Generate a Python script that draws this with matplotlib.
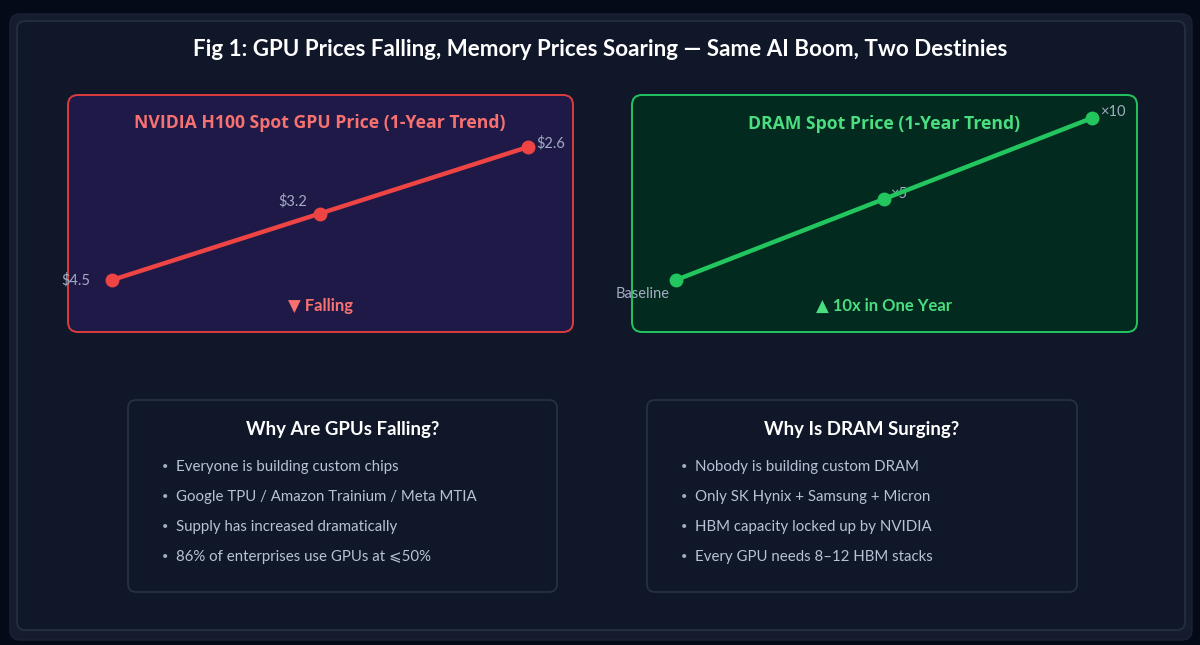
import matplotlib.pyplot as plt
from matplotlib.patches import FancyBboxPatch

# 数据
title = 'Fig 1: GPU Prices Falling, Memory Prices Soaring — Same AI Boom, Two Destinies'
steps = [0, 1, 2]
gpu_level = [0, 1, 2]
gpu_labels = ['$4.5', '$3.2', '$2.6']
dram_level = [0, 1, 2]
dram_labels = ['Baseline', '×5', '×10']
gpu_reasons = ['Everyone is building custom chips',
               'Google TPU / Amazon Trainium / Meta MTIA',
               'Supply has increased dramatically',
               '86% of enterprises use GPUs at ⩽50%']
dram_reasons = ['Nobody is building custom DRAM',
                'Only SK Hynix + Samsung + Micron',
                'HBM capacity locked up by NVIDIA',
                'Every GPU needs 8–12 HBM stacks']

W, H = 1200, 645
fam = ['Lato', 'DejaVu Sans']
plt.rcParams['font.family'] = fam

fig = plt.figure(figsize=(12, 6.45), dpi=100, facecolor='#050a18')
bg = fig.add_axes([0, 0, 1, 1])
bg.set_xlim(0, W)
bg.set_ylim(H, 0)
bg.axis('off')

def box(x0, y0, x1, y1, fc, ec, lw=1.0, r=8, z=1):
    p = FancyBboxPatch((x0, y0), x1 - x0, y1 - y0,
                       boxstyle='round,pad=0,rounding_size=%d' % r,
                       fc=fc, ec=ec, lw=lw, zorder=z)
    bg.add_patch(p)

# 外框
box(10, 14, 1192, 640, '#141c2d', '#1a2234', 1, 10, 1)
box(17, 21, 1185, 630, '#0f1729', '#222c3f', 1.5, 8, 2)
bg.text(600, 49, title, ha='center', va='center', color='white',
        fontsize=16.1, fontweight='bold', zorder=5)

# 两个折线面板
box(68, 95, 573, 332, '#1e1946', '#dc3c3c', 1.4, 10, 3)
box(632, 95, 1137, 332, '#022a1e', '#22c55e', 1.4, 10, 3)

def px_axes(x0, y0, x1, y1):
    ax = fig.add_axes([x0 / W, 1 - y1 / H, (x1 - x0) / W, (y1 - y0) / H])
    ax.axis('off')
    ax.patch.set_alpha(0)
    return ax

ax1 = px_axes(68, 95, 573, 332)
ax1.set_xlim(-0.2115, 2.216)
ax1.set_ylim(-0.782, 2.782)
ax1.plot(steps, gpu_level, color='#ef4444', lw=3.2, marker='o', ms=9,
         solid_capstyle='round', zorder=4)
ax1.text(-0.105, gpu_level[0], gpu_labels[0], ha='right', va='center',
         color='#a3adc2', fontsize=10.5)
ax1.text(steps[1] - 0.13, gpu_level[1] + 0.18, gpu_labels[1], ha='center',
         va='center', color='#a3adc2', fontsize=10.5)
ax1.text(steps[2] + 0.04, gpu_level[2] + 0.06, gpu_labels[2], ha='left',
         va='center', color='#a3adc2', fontsize=10.5)
ax1.text(1, 2.36, 'NVIDIA H100 Spot GPU Price (1-Year Trend)', ha='center',
         va='center', color='#f87171', fontsize=12.7, fontweight='bold',
         family=['Open Sans', 'DejaVu Sans'])
ax1.text(1, -0.39, '▼ Falling', ha='center', va='center', color='#f87171',
         fontsize=12, fontweight='bold')

ax2 = px_axes(632, 95, 1137, 332)
ax2.set_xlim(-0.2115, 2.216)
ax2.set_ylim(-0.642, 2.284)
ax2.plot(steps, dram_level, color='#22c55e', lw=3.2, marker='o', ms=9,
         solid_capstyle='round', zorder=4)
ax2.text(-0.16, dram_level[0] - 0.17, dram_labels[0], ha='center', va='center',
         color='#a3adc2', fontsize=10.5)
ax2.text(steps[1] + 0.03, dram_level[1] + 0.06, dram_labels[1], ha='left',
         va='center', color='#a3adc2', fontsize=10.5)
ax2.text(steps[2] + 0.04, dram_level[2] + 0.07, dram_labels[2], ha='left',
         va='center', color='#a3adc2', fontsize=10.5)
ax2.text(1, 1.93, 'DRAM Spot Price (1-Year Trend)', ha='center',
         va='center', color='#4ade80', fontsize=12.7, fontweight='bold',
         family=['Open Sans', 'DejaVu Sans'])
ax2.text(1, -0.32, '▲ 10x in One Year', ha='center', va='center',
         color='#4ade80', fontsize=12, fontweight='bold')

# 下方说明框
def reasons(x0, x1, head, items):
    box(x0, 400, x1, 592, '#0f1729', '#273245', 1.2, 8, 3)
    bg.text((x0 + x1) / 2, 430, head, ha='center', va='center', color='white',
            fontsize=13.4, fontweight='bold', zorder=5)
    for i, s in enumerate(items):
        y = 467 + i * 30
        bg.text(x0 + 37, y, '•', ha='center', va='center', color='#a3adc2',
                fontsize=8, zorder=5)
        bg.text(x0 + 48, y, s, ha='left', va='center', color='#b8c2d6',
                fontsize=10.8, zorder=5)

reasons(128, 557, 'Why Are GPUs Falling?', gpu_reasons)
reasons(647, 1077, 'Why Is DRAM Surging?', dram_reasons)

fig.savefig('out.png', dpi=100, facecolor=fig.get_facecolor())
